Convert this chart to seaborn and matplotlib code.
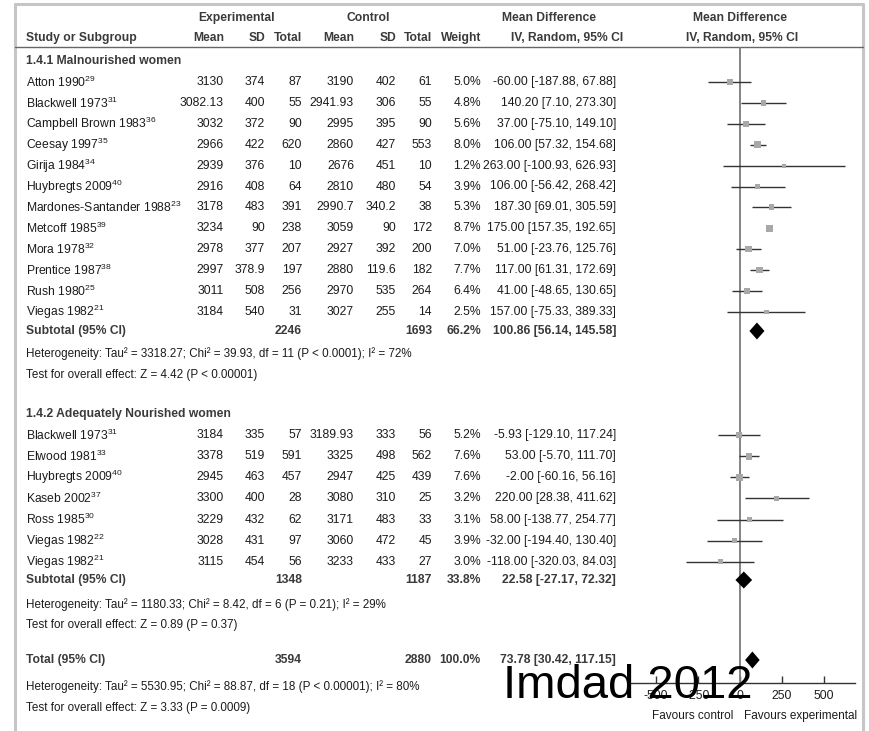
import numpy as np
import matplotlib
matplotlib.use('Agg')
import matplotlib.pyplot as plt
import seaborn as sns
import pandas as pd

# ---------------------------------------------------------------------------
# DATA
# ---------------------------------------------------------------------------
studies1 = ['Atton 1990', 'Blackwell 1973', 'Campbell Brown 1983', 'Ceesay 1997',
            'Girija 1984', 'Huybregts 2009', 'Mardones-Santander 1988', 'Metcoff 1985',
            'Mora 1978', 'Prentice 1987', 'Rush 1980', 'Viegas 1982']
refs1 = ['29', '31', '36', '35', '34', '40', '23', '39', '32', '38', '25', '21']
exp_mean1 = ['3130', '3082.13', '3032', '2966', '2939', '2916', '3178', '3234', '2978', '2997', '3011', '3184']
exp_sd1 = ['374', '400', '372', '422', '376', '408', '483', '90', '377', '378.9', '508', '540']
exp_n1 = [87, 55, 90, 620, 10, 64, 391, 238, 207, 197, 256, 31]
ctl_mean1 = ['3190', '2941.93', '2995', '2860', '2676', '2810', '2990.7', '3059', '2927', '2880', '2970', '3027']
ctl_sd1 = ['402', '306', '395', '427', '451', '480', '340.2', '90', '392', '119.6', '535', '255']
ctl_n1 = [61, 55, 90, 553, 10, 54, 38, 172, 200, 182, 264, 14]
weight1 = [5.0, 4.8, 5.6, 8.0, 1.2, 3.9, 5.3, 8.7, 7.0, 7.7, 6.4, 2.5]
md1 = [-60.00, 140.20, 37.00, 106.00, 263.00, 106.00, 187.30, 175.00, 51.00, 117.00, 41.00, 157.00]
lo1 = [-187.88, 7.10, -75.10, 57.32, -100.93, -56.42, 69.01, 157.35, -23.76, 61.31, -48.65, -75.33]
hi1 = [67.88, 273.30, 149.10, 154.68, 626.93, 268.42, 305.59, 192.65, 125.76, 172.69, 130.65, 389.33]

studies2 = ['Blackwell 1973', 'Elwood 1981', 'Huybregts 2009', 'Kaseb 2002',
            'Ross 1985', 'Viegas 1982', 'Viegas 1982']
refs2 = ['31', '33', '40', '37', '30', '22', '21']
exp_mean2 = ['3184', '3378', '2945', '3300', '3229', '3028', '3115']
exp_sd2 = ['335', '519', '463', '400', '432', '431', '454']
exp_n2 = [57, 591, 457, 28, 62, 97, 56]
ctl_mean2 = ['3189.93', '3325', '2947', '3080', '3171', '3060', '3233']
ctl_sd2 = ['333', '498', '425', '310', '483', '472', '433']
ctl_n2 = [56, 562, 439, 25, 33, 45, 27]
weight2 = [5.2, 7.6, 7.6, 3.2, 3.1, 3.9, 3.0]
md2 = [-5.93, 53.00, -2.00, 220.00, 58.00, -32.00, -118.00]
lo2 = [-129.10, -5.70, -60.16, 28.38, -138.77, -194.40, -320.03]
hi2 = [117.24, 111.70, 56.16, 411.62, 254.77, 130.40, 84.03]

# pooled: (md, lo, hi, n_exp, n_ctl, weight)
sub1 = (100.86, 56.14, 145.58, 2246, 1693, 66.2)
sub2 = (22.58, -27.17, 72.32, 1348, 1187, 33.8)
total = (73.78, 30.42, 117.15, 3594, 2880, 100.0)

het1 = 'Heterogeneity: Tau² = 3318.27; Chi² = 39.93, df = 11 (P < 0.0001); I² = 72%'
eff1 = 'Test for overall effect: Z = 4.42 (P < 0.00001)'
het2 = 'Heterogeneity: Tau² = 1180.33; Chi² = 8.42, df = 6 (P = 0.21); I² = 29%'
eff2 = 'Test for overall effect: Z = 0.89 (P = 0.37)'
het_t = 'Heterogeneity: Tau² = 5530.95; Chi² = 88.87, df = 18 (P < 0.00001); I² = 80%'
eff_t = 'Test for overall effect: Z = 3.33 (P = 0.0009)'

ticks = [-500, -250, 0, 250, 500]

# ---------------------------------------------------------------------------
# LAYOUT (pixel rows of the 869x731 canvas)
# ---------------------------------------------------------------------------
W, H = 869, 731
rows1 = 82 + 20.9 * np.arange(len(studies1))
rows2 = 435 + 21.15 * np.arange(len(studies2))
y_head1, y_head2, y_div = 18, 38, 47
y_grp1, y_sub1, y_het1, y_eff1 = 61, 331, 354, 375
y_grp2, y_sub2, y_het2, y_eff2 = 414, 580, 605, 625
y_tot, y_het_t, y_eff_t = 660, 687, 708
y_axis = 683

# column right edges
x_name = 26
x_em, x_esd, x_en = 224, 265, 302
x_cm, x_csd, x_cn = 354, 396, 432
x_w, x_ci = 481, 616
x_zero_px, px_per_250 = 740, 42.0
x_ax0, x_ax1 = 630, 855

sns.set_theme(style='white')
FONT = ['Liberation Sans Narrow', 'Liberation Sans', 'DejaVu Sans']
plt.rcParams['font.family'] = FONT
plt.rcParams['mathtext.default'] = 'regular'

TXT = '#1c1c1c'
BOLD = '#3a3a3a'
FS = 8.7
FS_SMALL = 8.4

fig = plt.figure(figsize=(W / 100, H / 100), dpi=100)
bg = fig.add_axes([0, 0, 1, 1])
bg.set_xlim(0, W)
bg.set_ylim(H, 0)
bg.axis('off')

# frame and header divider
bg.plot([15, 15], [4, H], color='#c6c6c6', lw=2.2)
bg.plot([863, 863], [4, H], color='#c6c6c6', lw=2.2)
bg.plot([15, 863], [4, 4], color='#c6c6c6', lw=2.2)
bg.plot([15, 863], [y_div, y_div], color='#666666', lw=1.0)


def txt(x, y, s, ha='right', bold=False, fs=FS):
    bg.text(x, y, s, ha=ha, va='center', fontsize=fs,
            fontweight='bold' if bold else 'normal',
            color=BOLD if bold else TXT)


# headers
txt(237, y_head1, 'Experimental', ha='center', bold=True)
txt(368, y_head1, 'Control', ha='center', bold=True)
txt(549, y_head1, 'Mean Difference', ha='center', bold=True)
txt(740, y_head1, 'Mean Difference', ha='center', bold=True)
txt(x_name, y_head2, 'Study or Subgroup', ha='left', bold=True)
for x, s in [(x_em, 'Mean'), (x_esd, 'SD'), (x_en, 'Total'),
             (x_cm, 'Mean'), (x_csd, 'SD'), (x_cn, 'Total'), (x_w, 'Weight')]:
    txt(x, y_head2, s, bold=True)
txt(567, y_head2, 'IV, Random, 95% CI', ha='center', bold=True)
txt(742, y_head2, 'IV, Random, 95% CI', ha='center', bold=True)


def study_rows(rows, names, refs, em, esd, en, cm, csd, cn, w, md, lo, hi):
    for i, y in enumerate(rows):
        txt(x_name, y, names[i] + '$^{' + refs[i] + '}$', ha='left')
        txt(x_em, y, em[i])
        txt(x_esd, y, esd[i])
        txt(x_en, y, str(en[i]))
        txt(x_cm, y, cm[i])
        txt(x_csd, y, csd[i])
        txt(x_cn, y, str(cn[i]))
        txt(x_w, y, f'{w[i]:.1f}%')
        txt(x_ci, y, f'{md[i]:.2f} [{lo[i]:.2f}, {hi[i]:.2f}]')


def pooled_row(y, label, p):
    txt(x_name, y, label, ha='left', bold=True)
    txt(x_en, y, str(p[3]), bold=True)
    txt(x_cn, y, str(p[4]), bold=True)
    txt(x_w, y, f'{p[5]:.1f}%', bold=True)
    txt(x_ci, y, f'{p[0]:.2f} [{p[1]:.2f}, {p[2]:.2f}]', bold=True)


txt(x_name, y_grp1, '1.4.1 Malnourished women', ha='left', bold=True)
study_rows(rows1, studies1, refs1, exp_mean1, exp_sd1, exp_n1,
           ctl_mean1, ctl_sd1, ctl_n1, weight1, md1, lo1, hi1)
pooled_row(y_sub1, 'Subtotal (95% CI)', sub1)
txt(x_name, y_het1, het1, ha='left', fs=FS_SMALL)
txt(x_name, y_eff1, eff1, ha='left', fs=FS_SMALL)

txt(x_name, y_grp2, '1.4.2 Adequately Nourished women', ha='left', bold=True)
study_rows(rows2, studies2, refs2, exp_mean2, exp_sd2, exp_n2,
           ctl_mean2, ctl_sd2, ctl_n2, weight2, md2, lo2, hi2)
pooled_row(y_sub2, 'Subtotal (95% CI)', sub2)
txt(x_name, y_het2, het2, ha='left', fs=FS_SMALL)
txt(x_name, y_eff2, eff2, ha='left', fs=FS_SMALL)

pooled_row(y_tot, 'Total (95% CI)', total)
txt(x_name, y_het_t, het_t, ha='left', fs=FS_SMALL)
txt(x_name, y_eff_t, eff_t, ha='left', fs=FS_SMALL)

# ---------------------------------------------------------------------------
# FOREST PANEL
# ---------------------------------------------------------------------------
units_per_px = 250 / px_per_250
ax = fig.add_axes([x_ax0 / W, 1 - y_axis / H, (x_ax1 - x_ax0) / W, (y_axis - y_div) / H])
ax.patch.set_alpha(0)
ax.set_xlim((x_ax0 - x_zero_px) * units_per_px, (x_ax1 - x_zero_px) * units_per_px)
ax.set_ylim(y_axis, y_div)

df = pd.DataFrame({
    'md': md1 + md2, 'lo': lo1 + lo2, 'hi': hi1 + hi2,
    'w': weight1 + weight2, 'row': list(rows1) + list(rows2)})

ax.axvline(0, color='#7a7a7a', lw=1.3, zorder=1)
ax.hlines(df['row'], df['lo'], df['hi'], color='#333333', lw=1.0, zorder=2)
sns.scatterplot(data=df, x='md', y='row', size='w', sizes=(8, 26), marker='s',
                color='#a8a8a8', edgecolor='none', legend=False, ax=ax, zorder=3)

half_h = 8.5
for p, y in [(sub1, y_sub1), (sub2, y_sub2), (total, y_tot)]:
    ax.fill([p[1], p[0], p[2], p[0]], [y, y - half_h, y, y + half_h],
            color='black', lw=0, zorder=4)

for s in ['top', 'right', 'left']:
    ax.spines[s].set_visible(False)
ax.spines['bottom'].set_color('#333333')
ax.spines['bottom'].set_linewidth(1.0)
ax.set_yticks([])
ax.set_xticks(ticks)
ax.set_xticklabels([str(t) for t in ticks])
ax.tick_params(axis='x', direction='in', length=5, width=1, color='#333333',
               labelsize=FS, labelcolor=TXT, pad=5, bottom=True)
ax.set_xlabel('')
ax.set_ylabel('')

txt(693, 716, 'Favours control', ha='center', fs=8.5)
txt(801, 716, 'Favours experimental', ha='center', fs=8.5)

# watermark
fig.text(503, 698, 'Imdad 2012', transform=bg.transData, fontsize=34,
         family=['Liberation Sans', 'DejaVu Sans'], color='black',
         ha='left', va='baseline', zorder=10)

plt.savefig('out.png', dpi=100)
plt.close()
